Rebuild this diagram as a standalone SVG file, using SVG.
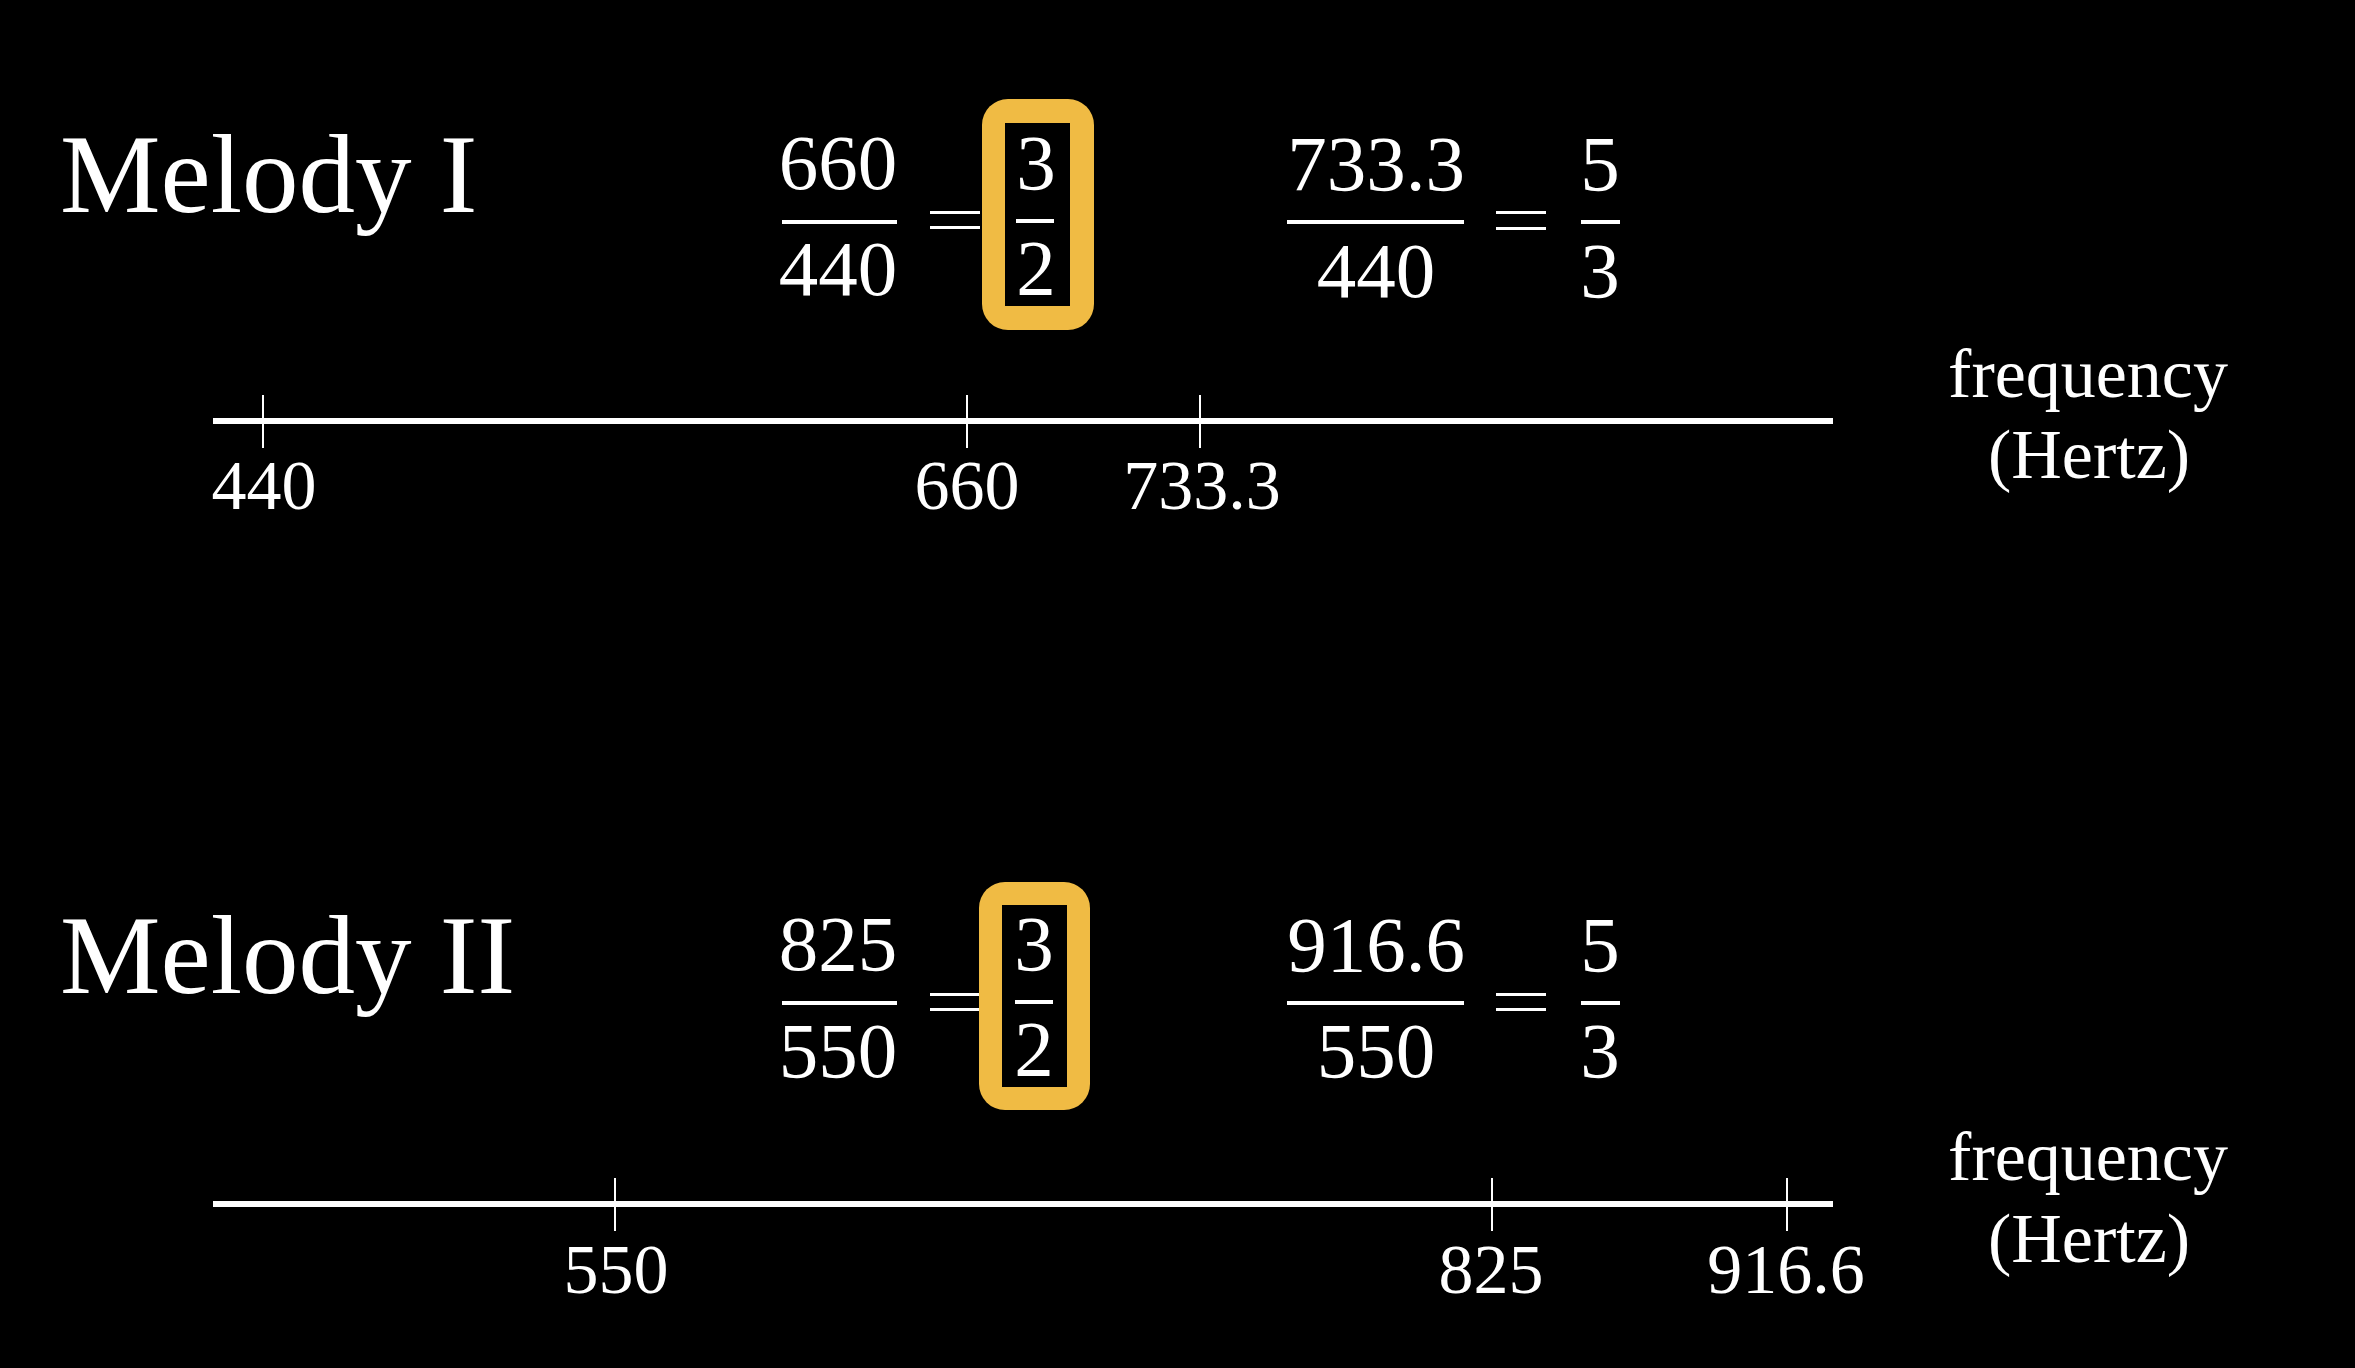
<svg xmlns="http://www.w3.org/2000/svg" width="2355" height="1368" viewBox="0 0 2355 1368">
<style>
.t{fill:#fff;font-family:"Liberation Serif","Times New Roman",serif}
.title{font-size:113px}
.num{font-size:79px;text-anchor:middle}
.lab{font-size:70px;text-anchor:middle}
.bar{fill:#fff}
.axis{stroke:#fff;stroke-width:6}
.tick{stroke:#fff;stroke-width:2}
.box{fill:#F0BB44}
</style>
<rect x="0" y="0" width="2355" height="1368" fill="#000"/>

<g id="melody1">
<text class="t title" x="60" y="212">Melody I</text>
</g>
<g id="ratio1a">
<text class="t num" x="838" y="189">660</text>
<rect class="bar" x="782" y="220" width="115" height="4"/>
<text class="t num" x="838" y="295">440</text>
<rect class="bar" x="930" y="211" width="50" height="3"/>
<rect class="bar" x="930" y="226" width="50" height="3"/>
<rect class="box" x="982" y="99" width="112" height="231" rx="26"/>
<rect x="1005" y="123" width="65" height="183" fill="#000"/>
<text class="t num" x="1036" y="189">3</text>
<rect class="bar" x="1016" y="219" width="38" height="4"/>
<text class="t num" x="1036" y="294">2</text>
</g>
<g id="ratio1b">
<text class="t num" x="1376" y="190">733.3</text>
<rect class="bar" x="1287" y="220" width="177" height="4"/>
<text class="t num" x="1376" y="297">440</text>
<rect class="bar" x="1496" y="211" width="50" height="3"/>
<rect class="bar" x="1496" y="227" width="50" height="3"/>
<text class="t num" x="1600" y="190">5</text>
<rect class="bar" x="1581" y="220" width="39" height="4"/>
<text class="t num" x="1600" y="297">3</text>
</g>
<g id="axis1">
<line class="axis" x1="213" y1="421" x2="1833" y2="421"/>
<line class="tick" x1="263" y1="395" x2="263" y2="448"/>
<line class="tick" x1="967" y1="395" x2="967" y2="448"/>
<line class="tick" x1="1200" y1="395" x2="1200" y2="448"/>
<text class="t lab" x="264" y="509">440</text>
<text class="t lab" x="967" y="509">660</text>
<text class="t lab" x="1202" y="509">733.3</text>
<text class="t lab" x="2088" y="397">frequency</text>
<text class="t lab" x="2089" y="478">(Hertz)</text>
</g>

<g id="melody2">
<text class="t title" x="60" y="993">Melody II</text>
</g>
<g id="ratio2a">
<text class="t num" x="838" y="970">825</text>
<rect class="bar" x="782" y="1001" width="115" height="4"/>
<text class="t num" x="838" y="1077">550</text>
<rect class="bar" x="930" y="993" width="50" height="3"/>
<rect class="bar" x="930" y="1008" width="50" height="3"/>
<rect class="box" x="979" y="882" width="111" height="228" rx="26"/>
<rect x="1002" y="905" width="65" height="182" fill="#000"/>
<text class="t num" x="1034" y="970">3</text>
<rect class="bar" x="1015" y="1000" width="38" height="4"/>
<text class="t num" x="1034" y="1075">2</text>
</g>
<g id="ratio2b">
<text class="t num" x="1376" y="971">916.6</text>
<rect class="bar" x="1287" y="1001" width="177" height="4"/>
<text class="t num" x="1376" y="1077">550</text>
<rect class="bar" x="1496" y="993" width="50" height="3"/>
<rect class="bar" x="1496" y="1008" width="50" height="3"/>
<text class="t num" x="1600" y="971">5</text>
<rect class="bar" x="1581" y="1001" width="39" height="4"/>
<text class="t num" x="1600" y="1077">3</text>
</g>
<g id="axis2">
<line class="axis" x1="213" y1="1204" x2="1833" y2="1204"/>
<line class="tick" x1="615" y1="1178" x2="615" y2="1231"/>
<line class="tick" x1="1492" y1="1178" x2="1492" y2="1231"/>
<line class="tick" x1="1787" y1="1178" x2="1787" y2="1231"/>
<text class="t lab" x="616" y="1293">550</text>
<text class="t lab" x="1491" y="1293">825</text>
<text class="t lab" x="1786" y="1293">916.6</text>
<text class="t lab" x="2088" y="1180">frequency</text>
<text class="t lab" x="2089" y="1262">(Hertz)</text>
</g>
</svg>
